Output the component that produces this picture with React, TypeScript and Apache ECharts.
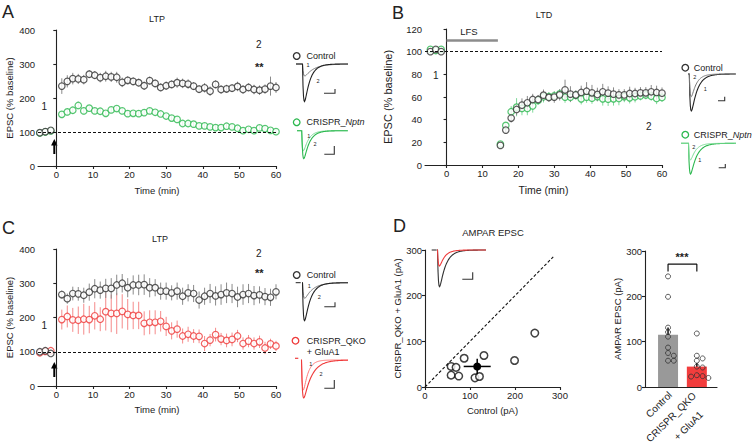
import React, { useEffect, useRef } from "react";
import * as echarts from "echarts";

const FONT = "'Liberation Sans', Arial, Helvetica, sans-serif";
const INK = "#222222";
const CTRL = "#333333";
const CTRL_ERR = "#8a8a8a";
const GREEN = "#2cb84f";
const GREEN_ERR = "#7fd99a";
const RED = "#ef3b3b";
const RED_ERR = "#f58a8a";

// ---------- time points ----------
const timeBase = [-4.5, -3, -1.5];
const timeLTP = [1.5, 3, 4.5, 6, 7.5, 9, 10.5, 12, 13.5, 15, 16.5, 18, 19.5, 21, 22.5, 24, 25.5, 27, 28.5, 30, 31.5, 33, 34.5, 36, 37.5, 39, 40.5, 42, 43.5, 45, 46.5, 48, 49.5, 51, 52.5, 54, 55.5, 57, 58.5, 60];
const timeLTD = [15, 16.5, 18, 19.5, 21, 22.5, 24, 25.5, 27, 28.5, 30, 31.5, 33, 34.5, 36, 37.5, 39, 40.5, 42, 43.5, 45, 46.5, 48, 49.5, 51, 52.5, 54, 55.5, 57, 58.5, 60];
const xTicks = [0, 10, 20, 30, 40, 50, 60];

// ---------- Panel A (LTP, Control vs CRISPR_Nptn) ----------
const aCtrlBase = [98, 101, 105];
const aCtrlBaseErr = [4, 4, 5];
const aCtrl = [235, 249, 257, 256, 254, 270, 267, 260, 264, 262, 261, 246, 252, 249, 245, 236, 251, 243, 231, 236, 240, 245, 243, 241, 235, 226, 230, 220, 240, 225, 227, 229, 234, 225, 231, 225, 223, 226, 235, 231];
const aCtrlErr = [23, 18, 17, 15, 14, 12, 12, 14, 16, 15, 16, 14, 12, 12, 12, 12, 12, 12, 12, 12, 12, 15, 14, 14, 12, 12, 14, 14, 12, 12, 12, 12, 14, 12, 12, 14, 14, 14, 28, 16];
const aNptnBase = [97, 100, 103];
const aNptnBaseErr = [3, 3, 3];
const aNptn = [152, 159, 164, 178, 162, 170, 162, 161, 155, 165, 169, 162, 154, 155, 154, 157, 162, 158, 153, 147, 141, 137, 125, 125, 123, 118, 118, 115, 113, 113, 117, 115, 111, 104, 108, 104, 112, 110, 105, 101];
const aNptnErr = [10, 10, 10, 11, 10, 9, 9, 9, 9, 9, 10, 9, 9, 9, 9, 9, 9, 9, 8, 8, 8, 8, 8, 8, 8, 8, 8, 8, 8, 8, 8, 8, 8, 8, 8, 8, 8, 8, 8, 7];

// ---------- Panel B (LTD) ----------
const bCtrlBase = [100, 102, 100];
const bNptnBase = [102, 101, 102];
const bCtrl = [17.3, 30.8, 41.4, 49, 52.8, 54.9, 57.8, 57.8, 61.6, 59.6, 59.9, 61.9, 66.3, 62.5, 61.9, 64, 65.1, 63.7, 62.2, 64.6, 63.4, 62.5, 61.9, 61.9, 63.1, 63.1, 63.7, 63.7, 64.6, 64, 63.4];
const bCtrlErr = [2, 3, 4, 5, 6, 6, 5, 4, 5, 4, 5, 5, 9, 7, 4, 6, 8, 7, 6, 7, 6, 6, 5, 5, 6, 5, 5, 5, 6, 6, 5];
const bNptn = [18.5, 34.9, 47, 51, 49.9, 49.9, 52.2, 57, 60.2, 60.4, 61, 62.8, 59.9, 59.9, 61.6, 58.4, 59.9, 59, 60.4, 58.4, 58.1, 58.4, 58.7, 60.4, 59.3, 60.2, 61, 61.9, 60.7, 58.7, 59.6];
const bNptnErr = [2, 3, 5, 8, 6, 6, 6, 4, 5, 4, 4, 4, 5, 4, 4, 5, 5, 5, 4, 6, 6, 6, 6, 5, 5, 5, 4, 4, 4, 5, 4];
const lfsStart = 0;
const lfsEnd = 14.3;
const lfsLevel = 110;

// ---------- Panel C (LTP, Control vs CRISPR_QKO + GluA1) ----------
const cCtrlBase = [100, 103, 95];
const cQkoBase = [97, 101, 103];
const cBaseErr = [4, 4, 5];
const cCtrl = [267, 255, 270, 269, 265, 274, 284, 280, 285, 285, 295, 300, 287, 295, 295, 296, 287, 287, 277, 277, 272, 277, 262, 272, 270, 251, 262, 270, 263, 267, 272, 270, 260, 267, 270, 264, 266, 261, 259, 275];
const cCtrlErr = [12, 15, 20, 20, 22, 25, 28, 25, 28, 30, 30, 27, 28, 28, 30, 30, 28, 25, 25, 25, 22, 25, 25, 25, 25, 25, 25, 28, 28, 30, 30, 28, 30, 30, 28, 28, 25, 25, 25, 22];
const cQko = [194, 203, 193, 192, 195, 194, 205, 195, 217, 212, 212, 218, 209, 206, 206, 183, 186, 186, 189, 174, 161, 166, 146, 151, 146, 145, 124, 134, 150, 137, 133, 136, 146, 124, 131, 124, 129, 111, 123, 117];
const cQkoErr = [29, 32, 35, 40, 45, 40, 40, 35, 55, 55, 60, 50, 45, 40, 40, 35, 35, 35, 30, 28, 25, 25, 22, 22, 20, 20, 22, 18, 20, 18, 20, 20, 18, 18, 18, 18, 18, 18, 15, 15];

// ---------- Panel D (AMPAR EPSC) ----------
const dCtrlPA = [58, 69, 58, 75, 87, 131, 111, 121, 199, 244];
const dQkoPA = [45, 43, 26, 24, 63, 69, 20, 23, 58, 118];
const dPairMean = [116, 45];
const dPairErr = [30, 17];
const dBarMeans = [115, 45];
const dBarSem = [16, 8];
const dBarPos = [1, 2];
const dBracketY = 271;
const dBracketLow = 255;

const axisLine = { show: true, lineStyle: { color: INK, width: 1.1 } };
const axisTick = { show: true, length: 3, lineStyle: { color: INK, width: 1.1 } };
const axisLabel = { color: INK, fontSize: 9.5, fontFamily: FONT, margin: 3 };

function pairs(t: number[], v: number[]) {
  return t.map((x, i) => [x, v[i]]);
}
function errs(t: number[], v: number[], e: number[]) {
  return t.map((x, i) => [x, v[i] - e[i], v[i] + e[i]]);
}

function errSeries(data: number[][], idx: number, color: string, width = 1) {
  return {
    type: "custom",
    xAxisIndex: idx,
    yAxisIndex: idx,
    data,
    z: 1,
    silent: true,
    encode: { x: 0, y: [1, 2] },
    renderItem: (_p: any, api: any) => {
      const a = api.coord([api.value(0), api.value(1)]);
      const b = api.coord([api.value(0), api.value(2)]);
      return {
        type: "line",
        shape: { x1: a[0], y1: a[1], x2: b[0], y2: b[1] },
        style: { stroke: color, lineWidth: width },
      };
    },
  };
}

function openDots(data: number[][], idx: number, color: string, size = 6.5, extra: any = {}) {
  return {
    type: "scatter",
    xAxisIndex: idx,
    yAxisIndex: idx,
    data,
    symbol: "circle",
    symbolSize: size,
    itemStyle: { color: "#ffffff", borderColor: color, borderWidth: 1.2 },
    z: 3,
    silent: true,
    ...extra,
  };
}

function dashed100(xmin: number, xmax: number) {
  return {
    silent: true,
    symbol: ["none", "none"],
    label: { show: false },
    lineStyle: { type: [3, 2], color: "#111", width: 1.1 },
    data: [[{ coord: [xmin, 100] }, { coord: [xmax, 100] }]],
  };
}

function swarm(values: number[], center: number, step: number, minDy: number) {
  const order = values.map((v, i) => i).sort((a, b) => values[b] - values[a]);
  const placed: number[][] = [];
  const offsets = [0, step, -step, 2 * step, -2 * step, 3 * step, -3 * step];
  const out: number[][] = [];
  order.forEach((i) => {
    const v = values[i];
    let off = 0;
    for (const o of offsets) {
      const clash = placed.some((p) => Math.abs(p[1] - v) < minDy && Math.abs(p[0] - (center + o)) < step * 0.9);
      if (!clash) {
        off = o;
        break;
      }
    }
    placed.push([center + off, v]);
    out.push([center + off, v]);
  });
  return out;
}

function epscTrace(xs: number, x0: number, x1: number, y0: number, amp: number, rise: number, decay: number) {
  const tp = (Math.log(decay / rise) * rise * decay) / (decay - rise);
  const norm = Math.exp(-tp / decay) - Math.exp(-tp / rise);
  const pts: number[][] = [[xs, y0]];
  for (let x = x0; x <= x1; x += 0.5) {
    const t = x - x0;
    pts.push([x, y0 + (amp * (Math.exp(-t / decay) - Math.exp(-t / rise))) / norm]);
  }
  return pts;
}

function txt(x: number, y: number, text: string, size: number, extra: any = {}) {
  return {
    type: "text",
    x,
    y,
    silent: true,
    style: {
      text,
      fill: INK,
      fontSize: size,
      fontFamily: FONT,
      textAlign: "center",
      textVerticalAlign: "middle",
      align: "center",
      verticalAlign: "middle",
      ...extra,
    },
  };
}

function poly(points: number[][], stroke: string, width = 1) {
  return { type: "polyline", silent: true, shape: { points }, style: { stroke, fill: null, lineWidth: width } };
}

function scaleBar(x1: number, x2: number, yb: number, yt: number) {
  return poly([[x1, yb], [x2, yb], [x2, yt]], "#333", 1.1);
}

function arrow(x: number, tip: number, tail: number) {
  return [
    { type: "line", silent: true, shape: { x1: x, y1: tip + 5, x2: x, y2: tail }, style: { stroke: "#000", lineWidth: 2 } },
    { type: "polygon", silent: true, shape: { points: [[x, tip], [x - 3.2, tip + 6.5], [x + 3.2, tip + 6.5]] }, style: { fill: "#000" } },
  ];
}

function legendDot(x: number, y: number, color: string) {
  return { type: "circle", silent: true, shape: { cx: x, cy: y, r: 3.3 }, style: { fill: "#fff", stroke: color, lineWidth: 1.3 } };
}

function buildGraphics() {
  const g: any[] = [];
  // panel letters
  g.push(txt(2, 12, "A", 18, { textAlign: "left", align: "left" }));
  g.push(txt(392, 12.5, "B", 18, { textAlign: "left", align: "left" }));
  g.push(txt(2, 227.5, "C", 18, { textAlign: "left", align: "left" }));
  g.push(txt(393, 226, "D", 18, { textAlign: "left", align: "left" }));
  // titles
  g.push(txt(157, 19, "LTP", 9));
  g.push(txt(544, 15, "LTD", 9));
  g.push(txt(160, 239, "LTP", 9));
  g.push(txt(493, 232, "AMPAR EPSC", 9.5));
  // numbers
  g.push(txt(44.3, 106.7, "1", 10));
  g.push(txt(258.7, 44.3, "2", 10));
  g.push(txt(259.3, 67, "**", 11, { fontWeight: "bold" }));
  g.push(txt(435.7, 75.7, "1", 10));
  g.push(txt(648.7, 126, "2", 10));
  g.push(txt(469, 31.5, "LFS", 9.5));
  g.push(txt(44.3, 325.7, "1", 10));
  g.push(txt(258.7, 253.3, "2", 10));
  g.push(txt(259.3, 273.3, "**", 11, { fontWeight: "bold" }));
  g.push(txt(682, 257, "***", 11, { fontWeight: "bold" }));
  // arrows
  g.push(...arrow(54.3, 139, 154));
  g.push(...arrow(54.3, 362, 377));

  // legends
  const rich = { i: { fontStyle: "italic", fontSize: 9, fontFamily: FONT, fill: INK } };
  g.push(legendDot(296.7, 56, CTRL));
  g.push(txt(306.5, 56, "Control", 9, { textAlign: "left", align: "left" }));
  g.push(legendDot(296.7, 122.3, GREEN));
  g.push(txt(306.5, 122.3, "CRISPR_{i|Nptn}", 9, { textAlign: "left", align: "left", rich }));
  g.push(legendDot(685.3, 67.7, CTRL));
  g.push(txt(693.7, 67.7, "Control", 9, { textAlign: "left", align: "left" }));
  g.push(legendDot(685.3, 134.7, GREEN));
  g.push(txt(693.7, 134.7, "CRISPR_{i|Nptn}", 9, { textAlign: "left", align: "left", rich }));
  g.push(legendDot(296.7, 275, CTRL));
  g.push(txt(306.7, 275, "Control", 9, { textAlign: "left", align: "left" }));
  g.push(legendDot(295.5, 340.7, RED));
  g.push(txt(306.7, 340.7, "CRISPR_QKO", 9, { textAlign: "left", align: "left" }));
  g.push(txt(306.7, 351.5, "+ GluA1", 9, { textAlign: "left", align: "left" }));

  // traces A control
  g.push(poly(epscTrace(296, 302.5, 348, 64, 12, 0.9, 9), "#777", 1));
  g.push(poly(epscTrace(296, 302.5, 348, 64, 37.5, 0.9, 5.5), "#222", 1.1));
  g.push(txt(308, 65, "1", 5.5));
  g.push(txt(318, 80.7, "2", 5.5));
  g.push(scaleBar(324, 335, 93.3, 89));
  // traces A green
  g.push(poly(epscTrace(297, 301.5, 348, 130.7, 20, 0.9, 5), "#7ddc97", 1));
  g.push(poly(epscTrace(297, 301.8, 348, 130.7, 28, 0.9, 5.5), GREEN, 1.1));
  g.push(txt(308.7, 135.7, "1", 5.5));
  g.push(txt(315, 144.3, "2", 5.5));
  g.push(scaleBar(324.3, 334.3, 154.3, 146));
  // traces B control
  g.push(poly(epscTrace(688, 689.3, 736, 74, 37, 0.9, 6), "#222", 1.1));
  g.push(poly(epscTrace(688, 689.3, 736, 74, 22.7, 0.9, 5), "#777", 1));
  g.push(txt(694.7, 76.7, "2", 5.5));
  g.push(txt(705.3, 89.3, "1", 5.5));
  g.push(scaleBar(718, 724.7, 100.7, 96.7));
  // traces B green
  g.push(poly(epscTrace(681, 688.5, 736, 143.3, 30.7, 0.9, 6), GREEN, 1.1));
  g.push(poly(epscTrace(681, 688.5, 736, 143.3, 16.7, 0.9, 5), "#7ddc97", 1));
  g.push(txt(693.7, 146.7, "2", 5.5));
  g.push(txt(699.7, 160, "1", 5.5));
  g.push(scaleBar(718.7, 725.3, 167.7, 164));
  // traces C control
  g.push(poly([[295.7, 282.7], [300.7, 282.7]], "#222", 1));
  g.push(poly(epscTrace(302, 302.5, 348, 282.7, 15.6, 0.9, 8), "#777", 1));
  g.push(poly(epscTrace(302, 302.5, 348, 282.7, 38, 0.9, 6), "#222", 1.1));
  g.push(txt(309.3, 285.7, "1", 5.5));
  g.push(txt(319.3, 297.3, "2", 5.5));
  g.push(scaleBar(324.3, 335, 306.7, 302.3));
  // traces C red
  g.push(poly([[295, 358.3], [298.3, 358.3]], RED, 1.2));
  g.push(poly(epscTrace(301, 301.5, 348, 360, 30, 0.9, 4.5), "#f77", 1));
  g.push(poly(epscTrace(301, 301.5, 348, 360, 38, 0.9, 8), RED, 1.1));
  g.push(txt(310.7, 364.3, "1", 5.5));
  g.push(txt(321, 374.3, "2", 5.5));
  g.push(scaleBar(324.3, 334.3, 388.3, 380));
  // traces D inset
  g.push(poly([[431.7, 250], [436.7, 250]], "#222", 1));
  g.push(poly(epscTrace(437, 437.5, 486, 250, 36.7, 0.9, 6), "#333", 1.1));
  g.push(poly(epscTrace(437, 437.5, 486, 250, 16, 0.9, 5), RED, 1.1));
  g.push(scaleBar(462.3, 472.7, 279.3, 272.3));

  // D bar category labels (rotated)
  const rot = Math.PI / 4;
  g.push({ ...txt(658.8, 404.5, "Control", 10), rotation: rot });
  g.push({ ...txt(671, 417.2, "CRISPR_QKO", 10), rotation: rot });
  g.push({ ...txt(688.3, 425.8, "+ GluA1", 10), rotation: rot });
  return g;
}

function buildOption() {
  const grids = [
    { left: 38, top: 30, width: 238, height: 136 },
    { left: 425, top: 29, width: 237, height: 136 },
    { left: 38, top: 249, width: 238, height: 137 },
    { left: 425, top: 250, width: 135, height: 137 },
    { left: 645, top: 251, width: 72, height: 136 },
  ];
  const base = { axisLine, axisTick, axisLabel, splitLine: { show: false } };
  const nameStyle = (size: number) => ({ color: INK, fontSize: size, fontFamily: FONT });

  const xAxes = [
    { ...base, gridIndex: 0, type: "value", min: -5, max: 60, axisTick: { ...axisTick, customValues: xTicks }, axisLabel: { ...axisLabel, customValues: xTicks }, name: "Time (min)", nameLocation: "middle", nameGap: 19, nameTextStyle: nameStyle(9.5) },
    { ...base, gridIndex: 1, type: "value", min: -6, max: 60, axisTick: { ...axisTick, customValues: xTicks }, axisLabel: { ...axisLabel, customValues: xTicks }, name: "Time (min)", nameLocation: "middle", nameGap: 19, nameTextStyle: nameStyle(10.5) },
    { ...base, gridIndex: 2, type: "value", min: -5, max: 60, axisTick: { ...axisTick, customValues: xTicks }, axisLabel: { ...axisLabel, customValues: xTicks }, name: "Time (min)", nameLocation: "middle", nameGap: 18, nameTextStyle: nameStyle(9.5) },
    { ...base, gridIndex: 3, type: "value", min: 0, max: 300, interval: 100, name: "Control (pA)", nameLocation: "middle", nameGap: 18, nameTextStyle: nameStyle(9.5) },
    { ...base, gridIndex: 4, type: "value", min: 0.2, max: 2.7, axisTick: { show: false }, axisLabel: { show: false } },
  ];
  const yAxes = [
    { ...base, gridIndex: 0, type: "value", min: 0, max: 400, interval: 100, name: "EPSC (% baseline)", nameLocation: "middle", nameGap: 24, nameTextStyle: nameStyle(9.5) },
    { ...base, gridIndex: 1, type: "value", min: 0, max: 120, interval: 20, name: "EPSC (% baseline)", nameLocation: "middle", nameGap: 32, nameTextStyle: nameStyle(11) },
    { ...base, gridIndex: 2, type: "value", min: 0, max: 400, interval: 100, name: "EPSC (% baseline)", nameLocation: "middle", nameGap: 24, nameTextStyle: nameStyle(9.5) },
    { ...base, gridIndex: 3, type: "value", min: 0, max: 300, interval: 100, name: "CRISPR_QKO + GluA1 (pA)", nameLocation: "middle", nameGap: 23, nameTextStyle: nameStyle(9.5) },
    { ...base, gridIndex: 4, type: "value", min: 0, max: 300, interval: 100, name: "AMPAR EPSC (pA)", nameLocation: "middle", nameGap: 21, nameTextStyle: nameStyle(9.5) },
  ];

  const series: any[] = [
    // A
    errSeries(errs(timeLTP, aCtrl, aCtrlErr), 0, CTRL_ERR),
    errSeries(errs(timeBase, aCtrlBase, aCtrlBaseErr), 0, CTRL_ERR),
    errSeries(errs(timeLTP, aNptn, aNptnErr), 0, GREEN_ERR),
    errSeries(errs(timeBase, aNptnBase, aNptnBaseErr), 0, GREEN_ERR),
    openDots(pairs(timeBase, aNptnBase).concat(pairs(timeLTP, aNptn)), 0, GREEN, 6.5, { markLine: dashed100(-5, 60) }),
    openDots(pairs(timeBase, aCtrlBase).concat(pairs(timeLTP, aCtrl)), 0, CTRL),
    // B
    errSeries(errs(timeLTD, bNptn, bNptnErr), 1, GREEN_ERR),
    errSeries(errs(timeLTD, bCtrl, bCtrlErr), 1, CTRL_ERR),
    openDots(pairs(timeBase, bNptnBase).concat(pairs(timeLTD, bNptn)), 1, GREEN, 6.5, {
      markLine: {
        silent: true,
        symbol: ["none", "none"],
        label: { show: false },
        data: [
          [{ coord: [-6, 100], lineStyle: { type: [3, 2], color: "#111", width: 1.1 } }, { coord: [60, 100] }],
          [{ coord: [lfsStart, lfsLevel], lineStyle: { type: "solid", color: "#8c8c8c", width: 2.5 } }, { coord: [lfsEnd, lfsLevel] }],
        ],
      },
    }),
    openDots(pairs(timeBase, bCtrlBase).concat(pairs(timeLTD, bCtrl)), 1, CTRL),
    // C
    errSeries(errs(timeLTP, cQko, cQkoErr), 2, RED_ERR),
    errSeries(errs(timeLTP, cCtrl, cCtrlErr), 2, CTRL_ERR),
    errSeries(errs(timeBase, cCtrlBase, cBaseErr), 2, CTRL_ERR),
    openDots(pairs(timeBase, cQkoBase).concat(pairs(timeLTP, cQko)), 2, RED, 6.5, { markLine: dashed100(-5, 60) }),
    openDots(pairs(timeBase, cCtrlBase).concat(pairs(timeLTP, cCtrl)), 2, CTRL),
    // D scatter
    openDots(dCtrlPA.map((v, i) => [v, dQkoPA[i]]), 3, "#111", 7.5, {
      itemStyle: { color: "#fff", borderColor: "#111", borderWidth: 1.5 },
      markLine: {
        silent: true,
        symbol: ["none", "none"],
        label: { show: false },
        lineStyle: { type: [3, 2], color: "#111", width: 1.1 },
        data: [[{ coord: [0, 0] }, { coord: [285, 285] }]],
      },
    }),
    {
      type: "custom",
      xAxisIndex: 3,
      yAxisIndex: 3,
      silent: true,
      z: 4,
      data: [[dPairMean[0], dPairMean[1], dPairErr[0], dPairErr[1]]],
      encode: { x: 0, y: 1 },
      renderItem: (_p: any, api: any) => {
        const mx = api.value(0), my = api.value(1), ex = api.value(2), ey = api.value(3);
        const l = api.coord([mx - ex, my]);
        const r = api.coord([mx + ex, my]);
        const b = api.coord([mx, my - ey]);
        const t = api.coord([mx, my + ey]);
        const c = api.coord([mx, my]);
        return {
          type: "group",
          children: [
            { type: "line", shape: { x1: l[0], y1: l[1], x2: r[0], y2: r[1] }, style: { stroke: "#000", lineWidth: 1.5 } },
            { type: "line", shape: { x1: b[0], y1: b[1], x2: t[0], y2: t[1] }, style: { stroke: "#000", lineWidth: 1.5 } },
            { type: "circle", shape: { cx: c[0], cy: c[1], r: 4 }, style: { fill: "#000" } },
          ],
        };
      },
    },
    // D bars
    {
      type: "bar",
      xAxisIndex: 4,
      yAxisIndex: 4,
      barWidth: 20,
      silent: true,
      z: 1,
      data: [
        { value: [dBarPos[0], dBarMeans[0]], itemStyle: { color: "#999999" } },
        { value: [dBarPos[1], dBarMeans[1]], itemStyle: { color: "#f23d3d" } },
      ],
    },
    errSeries(dBarPos.map((p, i) => [p, dBarMeans[i] - dBarSem[i], dBarMeans[i] + dBarSem[i]]), 4, "#111", 1.5),
    openDots(swarm(dCtrlPA, dBarPos[0], 0.2, 10), 4, "#333", 5, { itemStyle: { color: "rgba(0,0,0,0)", borderColor: "#333", borderWidth: 1 } }),
    openDots(swarm(dQkoPA, dBarPos[1], 0.2, 10), 4, "#333", 5, { itemStyle: { color: "rgba(0,0,0,0)", borderColor: "#333", borderWidth: 1 } }),
    {
      type: "line",
      xAxisIndex: 4,
      yAxisIndex: 4,
      silent: true,
      symbol: "none",
      lineStyle: { color: "#111", width: 1.2 },
      data: [[dBarPos[0], dBracketLow], [dBarPos[0], dBracketY], [dBarPos[1], dBracketY], [dBarPos[1], dBracketLow]],
    },
  ];

  return {
    animation: false,
    backgroundColor: "#ffffff",
    textStyle: { fontFamily: FONT },
    grid: grids,
    xAxis: xAxes,
    yAxis: yAxes,
    series,
    graphic: { elements: buildGraphics() },
  };
}

export default function App() {
  const ref = useRef<HTMLDivElement | null>(null);
  useEffect(() => {
    if (!ref.current) return;
    const chart = echarts.init(ref.current, undefined, { renderer: "svg" });
    chart.setOption(buildOption() as any);
    return () => chart.dispose();
  }, []);
  return (
    <div
      ref={ref}
      style={{ position: "fixed", left: 0, top: 0, width: 754, height: 443, background: "#fff" }}
    />
  );
}
